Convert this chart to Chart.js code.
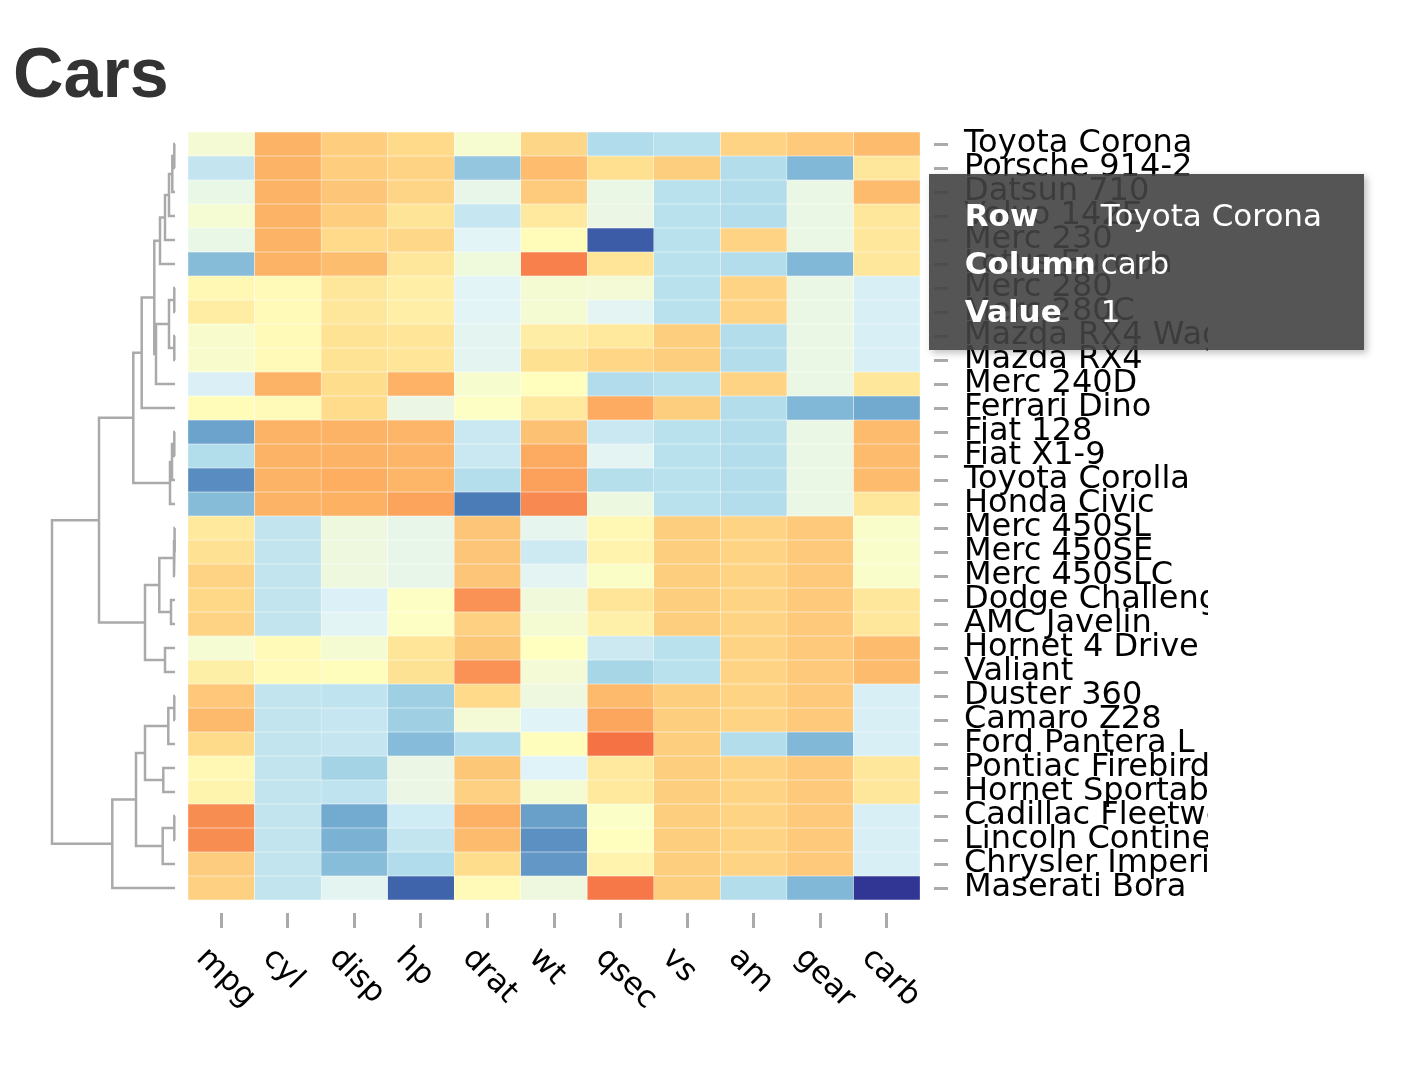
<!DOCTYPE html>
<html>
<head>
<meta charset="utf-8">
<script src="https://cdn.jsdelivr.net/npm/chart.js@4.4.1/dist/chart.umd.min.js"></script>
<style>
  body { margin: 0; background: #fff; }
  #title { position: absolute; left: 13px; top: 38px; margin: 0; font: bold 70px "Liberation Sans", Arial, sans-serif; line-height: 70px; color: #333; }
  canvas { position: absolute; left: 0; top: 0; }
  #tip { position: absolute; display: none; z-index: 10; background: rgba(67,67,67,0.9); color: #fff;
         font: 31px "DejaVu Sans", sans-serif; padding: 17px 42px 15px 36px; box-shadow: 3px 3px 7px rgba(0,0,0,0.25); white-space: nowrap; }
  #tip table { border-collapse: collapse; }
  #tip th, #tip td { padding: 0; height: 48px; line-height: 48px; text-align: left; }
  #tip th { width: 136px; font-weight: bold; }
</style>
</head>
<body>
<h1 id="title">Cars</h1>
<canvas id="dendro" width="188" height="1074"></canvas>
<canvas id="heat" width="1208" height="1074"></canvas>
<div id="tip"></div>
<script>
// rows in dendrogram order
const rowNames = ['Toyota Corona', 'Porsche 914-2', 'Datsun 710', 'Volvo 142E', 'Merc 230', 'Lotus Europa',
  'Merc 280', 'Merc 280C', 'Mazda RX4 Wag', 'Mazda RX4', 'Merc 240D', 'Ferrari Dino', 'Fiat 128', 'Fiat X1-9',
  'Toyota Corolla', 'Honda Civic', 'Merc 450SL', 'Merc 450SE', 'Merc 450SLC', 'Dodge Challenger', 'AMC Javelin',
  'Hornet 4 Drive', 'Valiant', 'Duster 360', 'Camaro Z28', 'Ford Pantera L', 'Pontiac Firebird', 'Hornet Sportabout',
  'Cadillac Fleetwood', 'Lincoln Continental', 'Chrysler Imperial', 'Maserati Bora'];
const colNames = ['mpg', 'cyl', 'disp', 'hp', 'drat', 'wt', 'qsec', 'vs', 'am', 'gear', 'carb'];

const mpg  = [21.5, 26.0, 22.8, 21.4, 22.8, 30.4, 19.2, 17.8, 21.0, 21.0, 24.4, 19.7, 32.4, 27.3, 33.9, 30.4,
              17.3, 16.4, 15.2, 15.5, 15.2, 21.4, 18.1, 14.3, 13.3, 15.8, 19.2, 18.7, 10.4, 10.4, 14.7, 15.0];
const cyl  = [4, 4, 4, 4, 4, 4, 6, 6, 6, 6, 4, 6, 4, 4, 4, 4, 8, 8, 8, 8, 8, 6, 6, 8, 8, 8, 8, 8, 8, 8, 8, 8];
const disp = [120.1, 120.3, 108.0, 121.0, 140.8, 95.1, 167.6, 167.6, 160, 160, 146.7, 145, 78.7, 79.0, 71.1, 75.7,
              275.8, 275.8, 275.8, 318, 304, 258, 225, 360, 350, 351, 400, 360, 472, 460, 440, 301];
const hp   = [97, 91, 93, 109, 95, 113, 123, 123, 110, 110, 62, 175, 66, 66, 65, 52,
              180, 180, 180, 150, 150, 110, 105, 245, 245, 264, 175, 175, 205, 215, 230, 335];
const drat = [3.70, 4.43, 3.85, 4.11, 3.92, 3.77, 3.92, 3.92, 3.90, 3.90, 3.69, 3.62, 4.08, 4.08, 4.22, 4.93,
              3.07, 3.07, 3.07, 2.76, 3.15, 3.08, 2.76, 3.21, 3.73, 4.22, 3.08, 3.15, 2.93, 3.00, 3.23, 3.54];
const wt   = [2.465, 2.140, 2.320, 2.780, 3.150, 1.513, 3.440, 3.440, 2.875, 2.620, 3.190, 2.770, 2.200, 1.935, 1.835, 1.615,
              3.730, 4.070, 3.780, 3.520, 3.435, 3.215, 3.460, 3.570, 3.840, 3.170, 3.845, 3.440, 5.250, 5.424, 5.345, 3.570];
const qsec = [20.01, 16.70, 18.61, 18.60, 22.90, 16.90, 18.30, 18.90, 17.02, 16.46, 20.00, 15.50, 19.47, 18.90, 19.90, 18.52,
              17.60, 17.40, 18.00, 16.87, 17.30, 19.44, 20.22, 15.84, 15.41, 14.50, 17.05, 17.02, 17.98, 17.82, 17.42, 14.60];
const vs   = [1, 0, 1, 1, 1, 1, 1, 1, 0, 0, 1, 0, 1, 1, 1, 1, 0, 0, 0, 0, 0, 1, 1, 0, 0, 0, 0, 0, 0, 0, 0, 0];
const am   = [0, 1, 1, 1, 0, 1, 0, 0, 1, 1, 0, 1, 1, 1, 1, 1, 0, 0, 0, 0, 0, 0, 0, 0, 0, 1, 0, 0, 0, 0, 0, 1];
const gear = [3, 5, 4, 4, 4, 5, 4, 4, 4, 4, 4, 5, 4, 4, 4, 4, 3, 3, 3, 3, 3, 3, 3, 3, 3, 5, 3, 3, 3, 3, 3, 5];
const carb = [1, 2, 1, 2, 2, 2, 4, 4, 4, 4, 2, 6, 1, 1, 1, 2, 3, 3, 3, 2, 2, 1, 1, 4, 4, 4, 2, 2, 4, 4, 4, 8];
const columns = [mpg, cyl, disp, hp, drat, wt, qsec, vs, am, gear, carb];

// row dendrogram, hclust style: negative = leaf (row number), positive = earlier merge
const mergeLeft   = [-1, 1, 2, 3, 4, -7, -9, 6, 8, 5, 10, -13, 12, 13, 11, -17, 16, -20, 17, -22, 19, 15,
                     -24, 23, -27, 24, -29, 27, 26, 29, 22];
const mergeRight  = [-2, -3, -4, -5, -6, -8, -10, 7, -11, 9, -12, -14, -15, -16, 14, -18, -19, -21, 18, -23, 20, 21,
                     -25, -26, -28, 25, -30, -31, 28, -32, 30];
const mergeHeight = [0.07, 0.27, 0.6, 1.0, 1.5, 0.07, 0.07, 0.6, 1.9, 2.07, 3.33, 0.07, 0.3, 0.5, 4.17, 0.04, 0.1, 0.4,
                     1.57, 1.0, 3.0, 7.6, 0.07, 0.67, 1.17, 3.0, 0.07, 1.23, 3.9, 6.27, 12.3];

const palette = ['#a50026', '#d73027', '#f46d43', '#fdae61', '#fee090', '#ffffbf', '#e0f3f8', '#abd9e9', '#74add1', '#4575b4', '#313695'];

// column-scaled values for colouring
const zScores = columns.map(col => {
  const m = col.reduce((a, b) => a + b, 0) / col.length;
  const sd = Math.sqrt(col.reduce((a, b) => a + (b - m) * (b - m), 0) / (col.length - 1));
  return col.map(v => (v - m) / sd);
});
const zMax = Math.max(...zScores.flat().map(Math.abs));
const rgb = palette.map(h => [1, 3, 5].map(i => parseInt(h.slice(i, i + 2), 16)));
function colorFor(z) {
  const t = Math.max(0, Math.min(1, (z + zMax) / (2 * zMax)));
  const p = t * (rgb.length - 1);
  const i = Math.min(Math.floor(p), rgb.length - 2);
  const f = p - i;
  const c = rgb[i].map((v, k) => Math.round(v + (rgb[i + 1][k] - v) * f));
  return `rgb(${c[0]},${c[1]},${c[2]})`;
}

// dendrogram
const nodeY = [];
function nodeAt(id) {
  return id < 0 ? { y: -id - 0.5, h: 0 } : { y: nodeY[id - 1], h: mergeHeight[id - 1] };
}
const branches = mergeHeight.map((H, k) => {
  const a = nodeAt(mergeLeft[k]), b = nodeAt(mergeRight[k]);
  nodeY[k] = (a.y + b.y) / 2;
  return {
    data: [{ x: a.h, y: a.y }, { x: H, y: a.y }, { x: H, y: b.y }, { x: b.h, y: b.y }],
    showLine: true, borderColor: '#aaa', borderWidth: 2.5, pointRadius: 0, clip: false
  };
});

new Chart(document.getElementById('dendro'), {
  type: 'scatter',
  data: { datasets: branches },
  options: {
    responsive: false, animation: false, events: [],
    layout: { padding: { left: 52, right: 13, top: 132, bottom: 174 } },
    scales: {
      x: { type: 'linear', reverse: true, min: 0, max: Math.max(...mergeHeight), display: false },
      y: { type: 'linear', reverse: true, min: 0, max: rowNames.length, display: false }
    },
    plugins: { legend: { display: false }, tooltip: { enabled: false } }
  }
});

// rotated column labels under the tick marks
const colLabels = {
  id: 'colLabels',
  afterDraw(chart) {
    const { ctx, scales: { x }, chartArea } = chart;
    ctx.save();
    ctx.font = '31px "DejaVu Sans"';
    ctx.fillStyle = '#000';
    ctx.textAlign = 'left';
    ctx.textBaseline = 'alphabetic';
    colNames.forEach((name, i) => {
      ctx.save();
      ctx.translate(x.getPixelForValue(i) - 26, chartArea.bottom + 46);
      ctx.rotate(Math.PI / 4);
      ctx.fillText(name, 0, 0);
      ctx.restore();
    });
    ctx.restore();
  }
};

function showTip({ chart, tooltip }) {
  const tip = document.getElementById('tip');
  if (!tooltip.dataPoints || !tooltip.dataPoints.length) { tip.style.display = 'none'; return; }
  const dp = tooltip.dataPoints[0];
  const r = dp.datasetIndex, c = dp.dataIndex;
  tip.innerHTML = `<table><tr><th>Row</th><td>${rowNames[r]}</td></tr>` +
    `<tr><th>Column</th><td>${colNames[c]}</td></tr>` +
    `<tr><th>Value</th><td>${columns[c][r]}</td></tr></table>`;
  tip.style.left = (chart.canvas.offsetLeft + tooltip.caretX + 42) + 'px';
  tip.style.top = (chart.canvas.offsetTop + tooltip.caretY + 18) + 'px';
  tip.style.display = 'block';
}

const heat = new Chart(document.getElementById('heat'), {
  type: 'bar',
  data: {
    datasets: rowNames.map((name, r) => ({
      label: name,
      data: colNames.map((c, i) => ({ x: i, y: [r, r + 1] })),
      backgroundColor: colNames.map((c, i) => colorFor(zScores[i][r])),
      borderColor: 'rgba(255,255,255,0.45)',
      borderWidth: 0.5,
      borderSkipped: false,
      grouped: false,
      barPercentage: 1,
      categoryPercentage: 1
    }))
  },
  options: {
    responsive: false, animation: false, events: [],
    layout: { padding: { left: 188, top: 132, right: 0, bottom: 146 } },
    scales: {
      x: {
        type: 'linear', min: -0.5, max: 10.71, offset: false,
        afterBuildTicks: s => { s.ticks = colNames.map((c, i) => ({ value: i })); },
        afterFit: s => { s.height = 15; },
        ticks: { display: false },
        grid: { offset: false, drawOnChartArea: false, drawTicks: true, tickLength: 15, tickWidth: 3, tickColor: '#aaa' },
        border: { display: false }
      },
      y: {
        type: 'linear', position: 'right', reverse: true, min: 0, max: 32.54,
        afterBuildTicks: s => { s.ticks = rowNames.map((n, i) => ({ value: i + 0.5 })); },
        afterFit: s => { s.width = 274; },
        ticks: { autoSkip: false, padding: 16, color: '#000', font: { family: 'DejaVu Sans', size: 32 },
                 callback: (v, i) => rowNames[i] },
        grid: { drawOnChartArea: false, tickLength: 14, tickWidth: 3, tickColor: '#aaa' },
        border: { display: false }
      }
    },
    plugins: {
      legend: { display: false },
      tooltip: { enabled: false, external: showTip }
    }
  },
  plugins: [colLabels]
});

heat.tooltip.setActiveElements([{ datasetIndex: rowNames.indexOf('Toyota Corona'), index: colNames.indexOf('carb') }], { x: 0, y: 0 });
heat.update();
</script>
</body>
</html>
